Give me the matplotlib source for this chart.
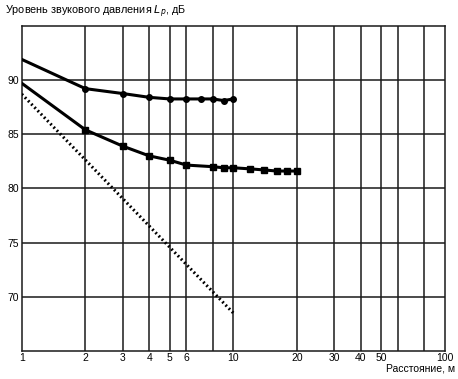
import matplotlib
matplotlib.use("Agg")
import matplotlib.pyplot as plt
from matplotlib.ticker import FixedLocator, FixedFormatter, NullLocator

plt.rcParams['font.family'] = ['Liberation Sans', 'DejaVu Sans']

# Upper curve (circles)
x_upper = [2, 3, 4, 5, 6, 7, 8, 9, 10]
y_upper = [89.2, 88.75, 88.4, 88.25, 88.25, 88.25, 88.25, 88.1, 88.25]
x_upper_start = 1
y_upper_start = 91.9

# Lower curve (squares)
x_lower = [2, 3, 4, 5, 6, 8, 9, 10, 12, 14, 16, 18, 20]
y_lower = [85.4, 83.9, 83.0, 82.6, 82.15, 82.0, 81.9, 81.9, 81.8, 81.7, 81.6, 81.6, 81.6]
x_lower_start = 1
y_lower_start = 89.7

# Dotted reference line
x_dotted = [1, 10]
y_dotted = [88.7, 68.5]

grid_x = [2, 3, 4, 5, 6, 8, 10, 20, 30, 40, 50, 60, 80]
xtick_vals = [1, 2, 3, 4, 5, 6, 10, 20, 30, 40, 50, 100]
xtick_labels = ["1", "2", "3", "4", "5", "6", "10", "20", "30", "40", "50", "100"]
ytick_vals = [70, 75, 80, 85, 90]

title = "Уровень звукового давления $L_p$, дБ"
xlabel = "Расстояние, м"

fig = plt.figure(figsize=(4.58, 3.79), dpi=100)
ax = fig.add_axes([0.0474, 0.0739, 0.9242, 0.8581])
ax.set_xscale('log')
ax.set_xlim(1, 100)
ax.set_ylim(65, 95)

for gx in grid_x:
    ax.axvline(gx, color='#1a1a1a', lw=1.1, zorder=1)
for gy in ytick_vals:
    ax.axhline(gy, color='#1a1a1a', lw=1.1, zorder=1)

ax.plot([x_upper_start] + x_upper, [y_upper_start] + y_upper, color='black', lw=2.2, zorder=3)
ax.plot(x_upper, y_upper, 'o', color='black', ms=4, zorder=4)
ax.plot([x_lower_start] + x_lower, [y_lower_start] + y_lower, color='black', lw=2.2, zorder=3)
ax.plot(x_lower, y_lower, 's', color='black', ms=3.8, zorder=4)
ax.plot(x_dotted, y_dotted, color='black', lw=2.2, ls=(0, (0.6, 0.9)), zorder=3)

ax.xaxis.set_major_locator(FixedLocator(xtick_vals))
ax.xaxis.set_major_formatter(FixedFormatter(xtick_labels))
ax.xaxis.set_minor_locator(NullLocator())
ax.set_yticks(ytick_vals)
ax.tick_params(axis='both', length=0, labelsize=7.5)
ax.tick_params(axis='x', pad=1.5)
ax.tick_params(axis='y', pad=2)

for s in ax.spines.values():
    s.set_linewidth(1.1)
    s.set_color('#1a1a1a')

fig.text(5 / 458, 1 - 12 / 379, title, fontsize=7.8, ha='left', va='center')
fig.text(455 / 458, 1 - 368.5 / 379, xlabel, fontsize=7.5, ha='right', va='center')

fig.savefig("out.png", dpi=100)
